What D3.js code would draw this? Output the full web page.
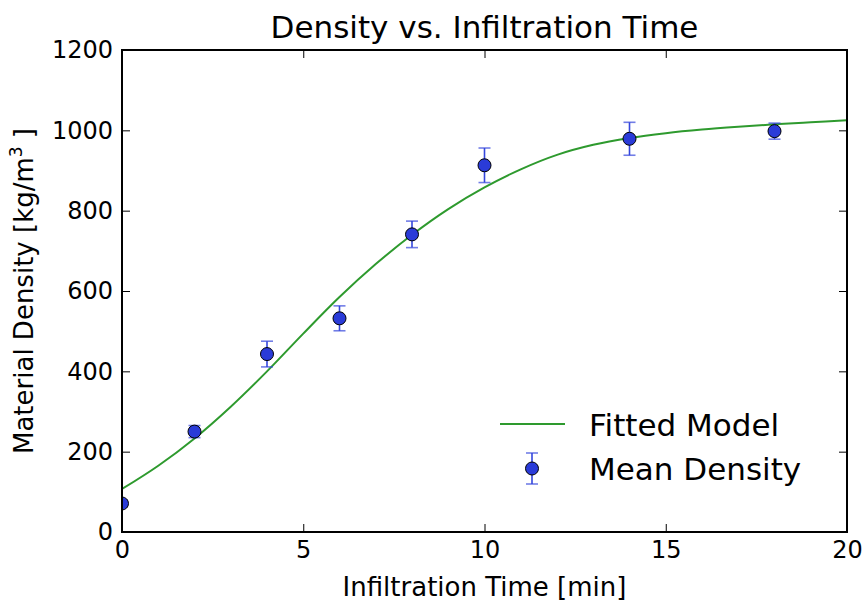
<!DOCTYPE html>
<html>
<head>
<meta charset="utf-8">
<script src="https://cdn.jsdelivr.net/npm/d3@7"></script>
<style>
  html, body { margin: 0; padding: 0; background: #fff; }
  svg { display: block; font-family: "DejaVu Sans", sans-serif; }
</style>
</head>
<body>
<svg id="chart" width="866" height="601"></svg>
<script>
// measured points (mean density with error)
var times = [0, 2, 4, 6, 8, 10, 14, 18];
var meanDensity = [71, 250, 443, 532, 741, 913, 979, 998];
var densityErr = [8, 15, 32, 31, 33, 43, 41, 20];

// fitted model curve
var fitTimes = [0, 1, 2, 3, 4, 5, 6, 7, 8, 9, 10, 11, 12, 13, 14, 15, 16, 17, 18, 19, 20];
var fitDensity = [107, 165, 233, 312, 400, 494, 585, 667, 740, 804, 858, 903, 939, 964, 981, 993, 1002, 1009, 1015, 1020, 1025];

var xTicks = [0, 5, 10, 15, 20];
var yTicks = [0, 200, 400, 600, 800, 1000, 1200];

var margin = { left: 122, right: 19, top: 50, bottom: 69 };
var width = 866, height = 601;
var svg = d3.select("#chart");

var x = d3.scaleLinear().domain([0, 20]).range([margin.left, width - margin.right]);
var y = d3.scaleLinear().domain([0, 1200]).range([height - margin.bottom, margin.top]);

var pointColor = "#2a3bd8";
var errColor = "#3446dc";
var fitColor = "#2e9a2e";
var font = "DejaVu Sans, sans-serif";

svg.append("clipPath").attr("id", "plotClip")
  .append("rect")
  .attr("x", x(0)).attr("y", y(1200))
  .attr("width", x(20) - x(0)).attr("height", y(0) - y(1200));

var plot = svg.append("g").attr("clip-path", "url(#plotClip)");

var line = d3.line()
  .x(function (d, i) { return x(fitTimes[i]); })
  .y(function (d) { return y(d); })
  .curve(d3.curveCatmullRom.alpha(0.5));

plot.append("path")
  .datum(fitDensity)
  .attr("d", line)
  .attr("fill", "none")
  .attr("stroke", fitColor)
  .attr("stroke-width", 2);

var pts = times.map(function (t, i) { return { t: t, v: meanDensity[i], e: densityErr[i] }; });
var capHalf = 6;

var errs = plot.selectAll("g.err").data(pts).join("g").attr("class", "err")
  .attr("stroke", errColor).attr("stroke-width", 1.6);
errs.append("line")
  .attr("x1", function (d) { return x(d.t); }).attr("x2", function (d) { return x(d.t); })
  .attr("y1", function (d) { return y(d.v - d.e); }).attr("y2", function (d) { return y(d.v + d.e); });
errs.append("line")
  .attr("x1", function (d) { return x(d.t) - capHalf; }).attr("x2", function (d) { return x(d.t) + capHalf; })
  .attr("y1", function (d) { return y(d.v + d.e); }).attr("y2", function (d) { return y(d.v + d.e); })
  .attr("stroke-opacity", 0.7);
errs.append("line")
  .attr("x1", function (d) { return x(d.t) - capHalf; }).attr("x2", function (d) { return x(d.t) + capHalf; })
  .attr("y1", function (d) { return y(d.v - d.e); }).attr("y2", function (d) { return y(d.v - d.e); })
  .attr("stroke-opacity", 0.7);

plot.selectAll("circle.pt").data(pts).join("circle").attr("class", "pt")
  .attr("cx", function (d) { return x(d.t); })
  .attr("cy", function (d) { return y(d.v); })
  .attr("r", 6.5)
  .attr("fill", pointColor)
  .attr("stroke", "#000")
  .attr("stroke-width", 1);

// axes: ticks inward on all four sides
var tickLen = 8;
function styleAxis(g) {
  g.attr("font-family", font);
  g.select(".domain").remove();
  g.selectAll(".tick line").attr("stroke", "#000").attr("stroke-width", 1);
  g.selectAll(".tick text").attr("fill", "#000").attr("font-size", 24);
}

svg.append("g")
  .attr("transform", "translate(0," + y(0) + ")")
  .call(d3.axisBottom(x).tickValues(xTicks).tickFormat(d3.format("d")).tickSizeInner(-tickLen).tickPadding(9))
  .call(styleAxis);
svg.append("g")
  .attr("transform", "translate(0," + y(1200) + ")")
  .call(d3.axisTop(x).tickValues(xTicks).tickSizeInner(-tickLen).tickFormat(""))
  .call(styleAxis);
svg.append("g")
  .attr("transform", "translate(" + x(0) + ",0)")
  .call(d3.axisLeft(y).tickValues(yTicks).tickFormat(d3.format("d")).tickSizeInner(-tickLen).tickPadding(9))
  .call(styleAxis);
svg.append("g")
  .attr("transform", "translate(" + x(20) + ",0)")
  .call(d3.axisRight(y).tickValues(yTicks).tickSizeInner(-tickLen).tickFormat(""))
  .call(styleAxis);

svg.append("rect")
  .attr("x", x(0)).attr("y", y(1200))
  .attr("width", x(20) - x(0)).attr("height", y(0) - y(1200))
  .attr("fill", "none").attr("stroke", "#000").attr("stroke-width", 2);

// title and labels
svg.append("text")
  .attr("x", (x(0) + x(20)) / 2).attr("y", 38)
  .attr("text-anchor", "middle").attr("font-size", 31)
  .text("Density vs. Infiltration Time");

svg.append("text")
  .attr("x", (x(0) + x(20)) / 2).attr("y", 596)
  .attr("text-anchor", "middle").attr("font-size", 26)
  .text("Infiltration Time [min]");

var yl = svg.append("text")
  .attr("transform", "translate(33," + (y(0) + y(1200)) / 2 + ") rotate(-90)")
  .attr("text-anchor", "middle").attr("font-size", 26);
yl.append("tspan").text("Material Density [kg/m");
yl.append("tspan").attr("font-size", 17).attr("dy", -11).text("3");
yl.append("tspan").attr("dy", 11).text(" ]");

// legend
var legend = svg.append("g");
legend.append("line")
  .attr("x1", 500).attr("x2", 565).attr("y1", 424).attr("y2", 424)
  .attr("stroke", fitColor).attr("stroke-width", 2);
legend.append("text").attr("x", 589).attr("y", 436).attr("font-size", 31).text("Fitted Model");
var lg = legend.append("g").attr("stroke", errColor).attr("stroke-width", 1.6);
lg.append("line").attr("x1", 532).attr("x2", 532).attr("y1", 453).attr("y2", 484);
lg.append("line").attr("x1", 526).attr("x2", 538).attr("y1", 453).attr("y2", 453).attr("stroke-opacity", 0.7);
lg.append("line").attr("x1", 526).attr("x2", 538).attr("y1", 484).attr("y2", 484).attr("stroke-opacity", 0.7);
legend.append("circle").attr("cx", 532).attr("cy", 468.5).attr("r", 6.5)
  .attr("fill", pointColor).attr("stroke", "#000").attr("stroke-width", 1);
legend.append("text").attr("x", 589).attr("y", 480).attr("font-size", 31).text("Mean Density");
</script>
</body>
</html>
